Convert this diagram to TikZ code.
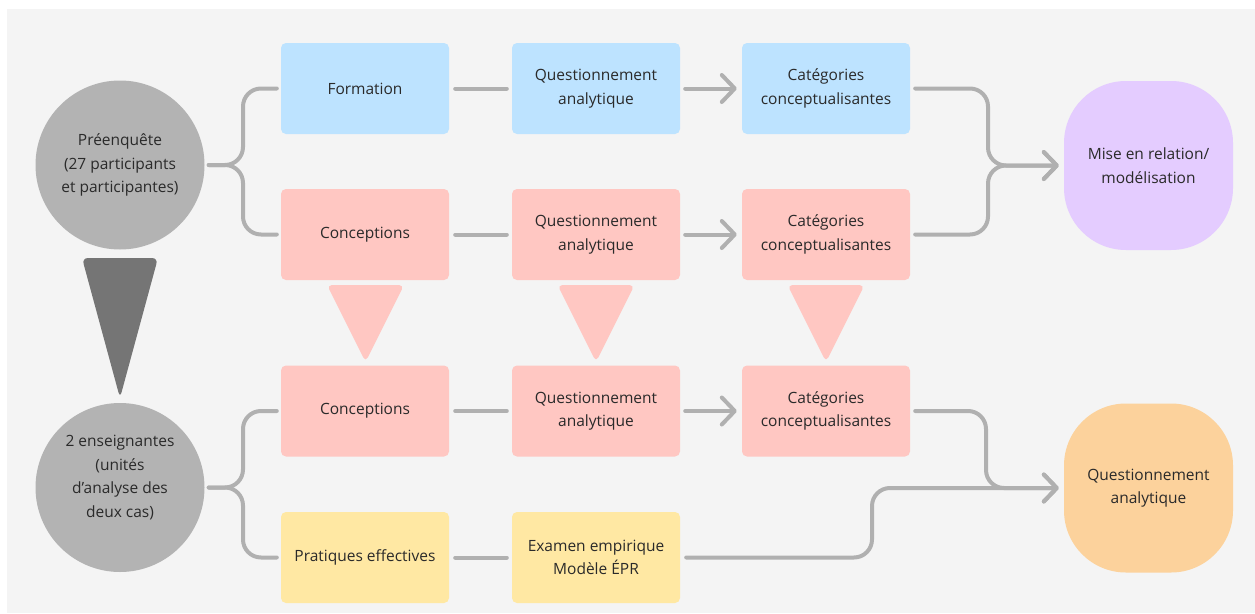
\documentclass[tikz,border=0pt]{standalone}
\usepackage{fontspec}
\setmainfont{Open Sans}
\usetikzlibrary{arrows.meta}

\definecolor{bgc}{HTML}{F4F4F4}
\definecolor{ink}{HTML}{2A2A2A}
\definecolor{linec}{HTML}{B0B0B0}
\definecolor{bluec}{HTML}{BDE3FF}
\definecolor{pinkc}{HTML}{FFC7C2}
\definecolor{yellowc}{HTML}{FFE8A3}
\definecolor{purplec}{HTML}{E4CCFF}
\definecolor{orangec}{HTML}{FCD29C}
\definecolor{circc}{HTML}{B3B3B3}
\definecolor{darkc}{HTML}{757575}

\begin{document}
\begin{tikzpicture}[x=1pt,y=-1pt,
  txt/.style={font=\fontsize{15.5}{23.5}\selectfont, text=ink, align=center},
  stepbox/.style={txt, rectangle, rounded corners=5pt, minimum width=168pt,
    minimum height=91pt, inner sep=0pt},
  blue/.style={stepbox, fill=bluec},
  pink/.style={stepbox, fill=pinkc},
  yellow/.style={stepbox, fill=yellowc},
  circ/.style={circle, fill=circc, minimum size=169pt, inner sep=0pt},
  blob/.style={txt, rectangle, rounded corners=62pt, minimum width=169pt,
    minimum height=169pt, inner sep=0pt},
  conn/.style={draw=linec, line width=4pt, line cap=round, line join=round,
    rounded corners=18pt},
  tip/.style={-{Straight Barb[length=13pt,width=27pt,round]}},
]
% canvas
\useasboundingbox (0,0) rectangle (1255,613);
\fill[white] (0,0) rectangle (1255,613);
\fill[bgc] (7,9) rectangle (1255,613);

% starting populations
\node[circ, label={[txt]center:{Préenquête\\(27 participants\\et participantes)}}] (p1) at (120,165) {};
\node[circ, label={[txt,yshift=10pt]center:{2 enseignantes\\(unités\\d’analyse des\\deux cas)}}] (p2) at (120,487.5) {};

% narrowing from the pre-survey to the two teachers
\fill[darkc, rounded corners=6pt] (82,258) -- (158,258) -- (120,398) -- cycle;

% row 1
\node[blue] (f1) at (365,88.5) {Formation};
\node[blue] (q1) at (596,88.5) {Questionnement\\analytique};
\node[blue] (k1) at (826,88.5) {Catégories\\conceptualisantes};
% row 2
\node[pink] (c2) at (365,234.5) {Conceptions};
\node[pink] (q2) at (596,234.5) {Questionnement\\analytique};
\node[pink] (k2) at (826,234.5) {Catégories\\conceptualisantes};
% row 3
\node[pink] (c3) at (365,411) {Conceptions};
\node[pink] (q3) at (596,411) {Questionnement\\analytique};
\node[pink] (k3) at (826,411) {Catégories\\conceptualisantes};
% row 4
\node[yellow] (pe) at (365,557.5) {Pratiques effectives};
\node[yellow] (ex) at (596,557.5) {Examen empirique\\Modèle ÉPR};

% outcomes
\node[blob, fill=purplec] (m1) at (1148.5,165.5) {Mise en relation/\\modélisation};
\node[blob, fill=orangec] (o1) at (1148.5,488) {Questionnement\\analytique};

% downward triangles between rows 2 and 3
\foreach \cx in {365.5,596,826} {
  \fill[pinkc, rounded corners=5pt] (\cx-38.5,285) -- (\cx+38.5,285) -- (\cx,362) -- cycle;
}

% brace junctions
\coordinate (b1) at (243,165);
\coordinate (b2) at (243,487.5);
\coordinate (j1) at (988,165.5);
\coordinate (j2) at (986,488);
\coordinate (j3) at (872,488);

% braces from the circles
\draw[conn] ([xshift=4pt]p1.east) -- (b1) |- ([xshift=-4pt]f1.west);
\draw[conn] ([xshift=4pt]p1.east) -- (b1) |- ([xshift=-4pt]c2.west);
\draw[conn] ([xshift=4pt]p2.east) -- (b2) |- ([xshift=-4pt]c3.west);
\draw[conn] ([xshift=4pt]p2.east) -- (b2) |- ([xshift=-4pt]pe.west);

% links along the rows
\foreach \a/\b in {f1/q1, c2/q2, c3/q3, pe/ex} {
  \draw[conn, shorten <=6pt, shorten >=5pt] (\a) -- (\b);
}
\foreach \a/\b in {q1/k1, q2/k2, q3/k3} {
  \draw[conn, tip, shorten <=5pt, shorten >=5pt] (\a) -- (\b);
}

% merging into the outcomes
\draw[conn, tip] ([xshift=5pt]k1.east) -| (j1) -- ([xshift=-5pt]m1.west);
\draw[conn, tip] ([xshift=5pt]k2.east) -| (j1) -- ([xshift=-5pt]m1.west);
\draw[conn, tip] ([xshift=5pt]k3.east) -| (j2) -- ([xshift=-5pt]o1.west);
\draw[conn, tip] ([xshift=6pt]ex.east) -| (j3) -- ([xshift=-5pt]o1.west);
\end{tikzpicture}
\end{document}
